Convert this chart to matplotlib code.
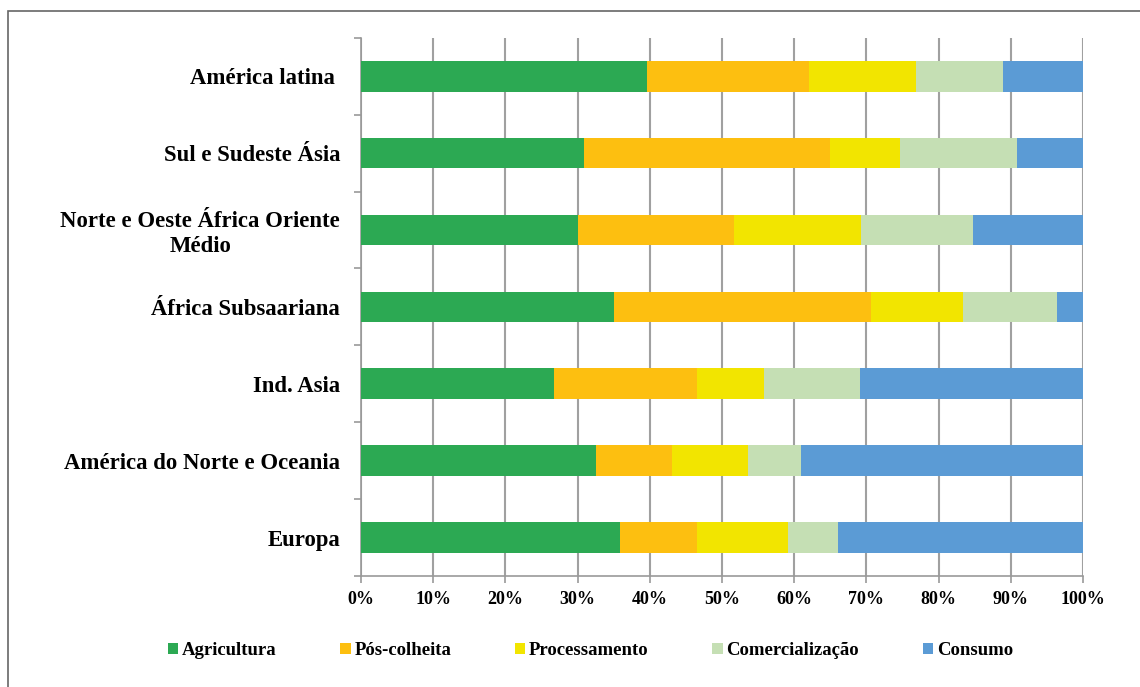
import matplotlib.pyplot as plt
import numpy as np
from matplotlib.patches import Rectangle

# regioes (de cima para baixo)
regioes = ['América latina ', 'Sul e Sudeste Ásia', 'Norte e Oeste África Oriente\nMédio',
           'África Subsaariana', 'Ind. Asia', 'América do Norte e Oceania', 'Europa']
etapas = ['Agricultura', 'Pós-colheita', 'Processamento', 'Comercialização', 'Consumo']
cores = ['#2CA953', '#FDBF10', '#F2E500', '#C5DFB4', '#5B9BD5']

agricultura = [39.6, 30.9, 30.0, 35.0, 26.7, 32.5, 35.9]
pos_colheita = [22.4, 34.1, 21.7, 35.6, 19.9, 10.6, 10.7]
processamento = [14.8, 9.6, 17.5, 12.8, 9.2, 10.5, 12.6]
comercializacao = [12.1, 16.3, 15.5, 13.0, 13.3, 7.4, 6.9]
consumo = [11.1, 9.1, 15.3, 3.6, 30.9, 39.0, 33.9]

series = [agricultura, pos_colheita, processamento, comercializacao, consumo]

plt.rcParams['font.family'] = ['Liberation Serif', 'DejaVu Serif']
plt.rcParams['font.weight'] = 'bold'

fig = plt.figure(figsize=(11.4, 6.87), dpi=100)
ax = fig.add_axes([0.3167, 0.1616, 0.6333, 0.7834])

y = np.arange(len(regioes))[::-1]
esq = np.zeros(len(regioes))
for nome, vals, c in zip(etapas, series, cores):
    vals = np.array(vals)
    ax.barh(y, vals, left=esq, height=0.4, color=c, label=nome, zorder=3)
    esq += vals

ax.set_xlim(0, 100)
ax.set_ylim(-0.5, len(regioes) - 0.5)
ax.set_xticks(np.arange(0, 101, 10))
ax.set_xticklabels([f'{v}%' for v in range(0, 101, 10)], fontsize=13, fontweight='bold')
ax.set_yticks(y)
ax.set_yticklabels(regioes, fontsize=16.4, fontweight='bold', multialignment='center',
                   linespacing=1.25)
ax.set_yticks(np.arange(-0.5, len(regioes), 1), minor=True)
ax.tick_params(axis='y', which='major', length=0, pad=15)
ax.tick_params(axis='y', which='minor', length=5, color='#999999', width=1.2)
ax.tick_params(axis='x', length=5, color='#999999', width=1.2, pad=6)

ax.grid(axis='x', color='#A0A0A0', lw=1.5, zorder=0)
for s in ['top', 'right']:
    ax.spines[s].set_visible(False)
for s in ['left', 'bottom']:
    ax.spines[s].set_color('#999999')
    ax.spines[s].set_linewidth(1.2)

fig.legend(loc='center', bbox_to_anchor=(0.518, 0.053), ncol=5, frameon=False,
           prop={'size': 13.5, 'weight': 'bold'}, handlelength=0.55, handleheight=0.55,
           handletextpad=0.2, columnspacing=3.4)

# moldura
fig.patches.append(Rectangle((0.007, -0.01), 1.1, 0.994, transform=fig.transFigure,
                             fill=False, edgecolor='#666666', lw=1.2))

fig.savefig('out.png', dpi=100)
